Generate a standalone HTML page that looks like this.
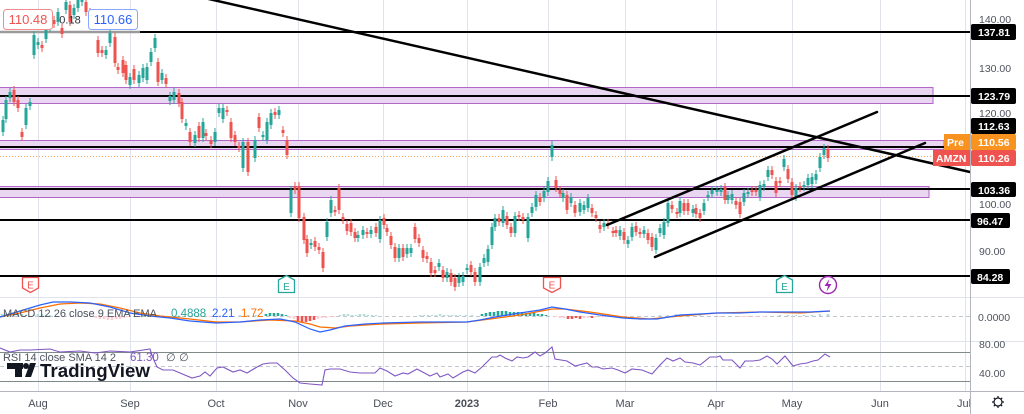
<!DOCTYPE html>
<html><head><meta charset="utf-8"><style>
html,body{margin:0;padding:0;background:#fff;overflow:hidden}
svg{display:block;font-family:"Liberation Sans",sans-serif}
</style></head><body>
<svg width="1024" height="414" viewBox="0 0 1024 414" xmlns="http://www.w3.org/2000/svg">
<defs>
<marker id="mt" markerUnits="userSpaceOnUse" markerWidth="2" markerHeight="8" refX="1" refY="4" orient="0" overflow="visible"><path d="M1 0V8" stroke="#26a69a" stroke-width="1"/></marker>
<marker id="mr" markerUnits="userSpaceOnUse" markerWidth="2" markerHeight="8" refX="1" refY="4" orient="0" overflow="visible"><path d="M1 0V8" stroke="#ef5350" stroke-width="1"/></marker>
</defs>
<rect x="0" y="0" width="1024" height="414" fill="#fff"/>
<!-- vertical grid -->
<g stroke="#e0e3eb" stroke-width="1">
<path d="M38.5 0V391M130.5 0V391M216.5 0V391M298.5 0V391M383.5 0V391M467.5 0V391M548.5 0V391M625.5 0V391M716.5 0V391M792.5 0V391M880.5 0V391M965.5 0V391"/>
<path d="M0 297.5H970M0 341.5H970"/>
</g>
<!-- bands -->
<g fill="#e9d6f0" stroke="#b266c8" stroke-width="1">
<rect x="-1" y="87.5" width="934" height="16"/>
<rect x="-1" y="140.5" width="945" height="9"/>
<rect x="-1" y="186.5" width="930" height="11"/>
</g>
<!-- horizontal lines -->
<g stroke="#000" stroke-width="2">
<path d="M140 32H970M0 96H970M0 147H944M0 189H970M0 220H970M0 276H970"/>
</g>
<path d="M0 32H140" stroke="#9a9a9a" stroke-width="2.5"/>
<path d="M0 156.5H933" stroke="#f5a25d" stroke-width="1" stroke-dasharray="1 2"/>
<!-- candles -->
<path fill="none" stroke="#26a69a" stroke-width="3" marker-start="url(#mt)" marker-mid="url(#mt)" marker-end="url(#mt)" d="M3 120V132 M6 100V119 M10 92V98 M26 108V125 M30 102V106 M34 35V55 M38 42V45 M46 30V39 M50 20V28 M58 12V22 M66 2V10 M74 8V15 M78 0V8 M82 -5V2 M106 50V55 M110 33V43 M130 77V85 M139 75V83 M143 68V78 M147 67V80 M151 52V62 M155 38V48 M162 73V80 M170 96V101 M174 92V100 M186 123V126 M195 135V143 M203 122V138 M215 132V142 M219 108V113 M223 108V119 M243 142V168 M255 140V158 M263 135V137 M267 122V140 M271 113V125 M279 110V115 M291 190V213 M311 243V245 M327 222V237 M331 200V213 M358 235V238 M363 230V235 M371 230V234 M380 220V239 M399 248V258 M407 248V254 M411 248V253 M439 263V267 M447 272V278 M459 277V283 M463 276V282 M467 268V270 M480 267V282 M484 258V263 M488 249V262 M492 227V245 M495 218V227 M503 210V223 M515 216V233 M528 217V238 M532 207V213 M536 195V207 M544 191V198 M548 181V192 M552 145V157 M563 193V198 M571 197V203 M580 203V212 M584 205V210 M588 198V208 M604 223V227 M620 230V236 M628 240V244 M632 227V237 M644 230V234 M656 238V250 M660 228V233 M664 222V235 M668 203V223 M680 201V213 M693 209V213 M704 203V211 M708 195V197 M712 190V194 M717 190V192 M721 189V192 M728 195V200 M732 194V200 M744 193V202 M748 192V194 M760 185V197 M764 184V187 M768 170V177 M784 159V167 M796 188V197 M804 185V187 M808 178V185 M812 177V184 M816 174V180 M820 157V168 M824 148V155"/>
<path fill="none" stroke="#ef5350" stroke-width="3" marker-start="url(#mr)" marker-mid="url(#mr)" marker-end="url(#mr)" d="M14 90V102 M18 100V108 M22 132V137 M42 45V48 M54 20V24 M62 28V34 M70 5V22 M86 2V12 M90 12V22 M98 40V53 M102 50V53 M115 37V63 M118 67V70 M123 60V73 M126 65V80 M134 69V80 M158 62V82 M166 78V84 M179 93V103 M182 102V119 M190 132V142 M199 126V138 M206 133V136 M211 140V144 M227 110V112 M231 122V138 M235 135V142 M239 146V148 M248 142V172 M259 117V128 M275 112V115 M283 130V133 M287 140V155 M295 186V190 M299 186V218 M304 217V240 M307 239V253 M315 241V247 M319 247V250 M323 252V268 M335 210V212 M339 188V210 M343 217V220 M347 224V231 M351 223V232 M355 232V238 M367 232V234 M376 227V233 M384 218V225 M387 228V232 M391 236V245 M395 247V258 M403 248V257 M415 227V239 M419 238V243 M423 250V258 M427 256V259 M431 262V273 M435 270V273 M443 270V278 M451 273V282 M455 278V287 M471 265V272 M475 272V282 M499 218V222 M507 216V225 M511 227V233 M519 215V217 M523 217V220 M540 197V202 M556 180V188 M560 190V194 M567 195V210 M575 205V213 M592 208V213 M596 215V218 M600 225V229 M608 223V225 M613 231V233 M616 230V233 M624 232V240 M636 226V232 M640 232V234 M648 233V240 M652 237V247 M672 205V209 M677 212V214 M684 203V211 M688 203V211 M696 208V214 M700 213V218 M725 187V200 M736 201V205 M740 202V214 M752 190V192 M756 190V192 M772 170V175 M776 181V193 M780 181V183 M788 169V179 M792 182V195 M800 186V188 M828 149V158"/>
<!-- trend lines -->
<g stroke="#000" stroke-width="2.5" stroke-linecap="round">
<line x1="200" y1="-3" x2="970" y2="172"/>
<line x1="607" y1="225" x2="877" y2="112"/>
<line x1="655" y1="257" x2="925" y2="143"/>
</g>
<!-- top-left legend -->
<rect x="3.5" y="9.5" width="49" height="20" rx="3" fill="#fff" stroke="#f28b8b"/>
<text x="28" y="24" font-size="13" fill="#ef5350" text-anchor="middle">110.48</text>
<text x="70" y="23.5" font-size="11" fill="#2a2e39" text-anchor="middle">0.18</text>
<rect x="88.5" y="9.5" width="49" height="20" rx="3" fill="#fff" stroke="#8aa6ff"/>
<text x="113" y="24" font-size="13" fill="#2962ff" text-anchor="middle">110.66</text>
<!-- earnings markers -->
<path d="M22.5 277.5H38.5V288L30.5 292.5L22.5 288Z" fill="#fff" stroke="#ef5350" stroke-width="1.3"/>
<text x="30.5" y="288.5" font-size="10" fill="#ef5350" text-anchor="middle">E</text>
<path d="M278.5 280L286.5 275.5L294.5 280V292.5H278.5Z" fill="#fff" stroke="#26a69a" stroke-width="1.3"/>
<text x="286.5" y="290" font-size="10" fill="#26a69a" text-anchor="middle">E</text>
<path d="M543.5 277.5H560.5V288L552 292.5L543.5 288Z" fill="#fff" stroke="#ef5350" stroke-width="1.3"/>
<text x="552" y="288.5" font-size="10" fill="#ef5350" text-anchor="middle">E</text>
<path d="M776.5 280L784.5 275.5L792.5 280V292.5H776.5Z" fill="#fff" stroke="#26a69a" stroke-width="1.3"/>
<text x="784.5" y="290" font-size="10" fill="#26a69a" text-anchor="middle">E</text>
<circle cx="828" cy="285" r="8.5" fill="#fff" stroke="#9c27b0" stroke-width="1.4"/>
<path d="M829.5 279L824.5 286H828L826.5 291.5L831.5 284H828Z" fill="#9c27b0"/>
<!-- MACD pane -->
<path d="M0 316.5H970" stroke="#c4c7ce" stroke-dasharray="4 3"/>
<g stroke-width="2.6" fill="none">
<path stroke="#b2dfdb" d="M2 316V314M6 316V313M10 316V313M14 316V313M18 316V314M22 316V314M26 316V315M34 316V315M38 316V314M42 316V314M46 316V315M50 316V315M150 316V315M158 316V315M240 316V315M248 316V315M256 316V315M340 316V315M344 316V314M348 316V314M352 316V315M356 316V315M360 316V314M364 316V314M368 316V315M372 316V315M376 316V315M420 316V315M424 316V315M428 316V315M432 316V315M436 316V315M440 316V314M444 316V315M448 316V315M452 316V315M456 316V315M460 316V315M466 316V315M472 316V315M660 316V315M668 316V315M676 316V314M684 316V315M692 316V315M700 316V315M780 316V315M788 316V315M796 316V315M804 316V315M812 316V315M820 316V314M828 316V314"/>
<path stroke="#26a69a" d="M266 316V314M270 316V313M274 316V313M278 316V313M282 316V314M286 316V315M482 316V314M486 316V313M490 316V312M494 316V312M498 316V311M502 316V311M506 316V311M510 316V312M514 316V312M518 316V312M522 316V312M526 316V313M530 316V313M534 316V313M538 316V314M542 316V314M546 316V315"/>
<path stroke="#ffcdd2" d="M96 316V318M100 316V319M104 316V319M108 316V320M112 316V320M116 316V319M120 316V319M124 316V318M128 316V317M180 316V317M190 316V317M200 316V317M210 316V317M290 316V318M294 316V319M318 316V319M322 316V318M326 316V318M330 316V317M334 316V317M556 316V317M560 316V318M564 316V318M584 316V318M588 316V318M596 316V317M600 316V317M604 316V317M608 316V317M612 316V317M720 316V317M740 316V317M744 316V317M748 316V317M756 316V317M764 316V317"/>
<path stroke="#ef5350" d="M298 316V321M302 316V322M306 316V322M310 316V321M314 316V320M568 316V319M572 316V319M576 316V318M580 316V319M592 316V318"/>
</g>
<polyline fill="none" stroke="#ff6d00" stroke-width="1.2" points="0,317 20,313 40,308 60,304 80,303 100,304 120,308 140,313 160,316 190,319 216,322 240,322 270,320 295,321 310,324 320,327 335,328 350,326 383,324 420,323 467,322 490,319 520,315 552,309 565,309 590,312 623,317 650,319 680,316 717,313 760,312 800,313 830,311"/>
<polyline fill="none" stroke="#2962ff" stroke-width="1.2" points="0,317 20,311 40,305 53,302 70,302 90,303 110,307 130,313 150,316 170,318 190,321 216,323 240,322 260,320 280,319 295,322 310,329 320,332 330,330 345,326 365,324 383,323 420,322 467,322 480,320 495,317 520,313 540,310 552,307 565,309 580,312 600,315 623,318 640,319 657,319 680,315 700,314 717,313 740,313 760,312 793,312 810,312 830,311"/>
<text x="3" y="317" font-size="11" fill="#4c525e" textLength="154" lengthAdjust="spacingAndGlyphs">MACD 12 26 close 9 EMA EMA</text>
<text x="171" y="317" font-size="11.5" fill="#26a69a">0.4888</text>
<text x="212" y="317" font-size="11.5" fill="#2962ff">2.21</text>
<text x="241" y="317" font-size="11.5" fill="#ff6d00">1.72</text>
<!-- RSI pane -->
<path d="M0 352.5H970M0 381.5H970" stroke="#7e8b8a" stroke-width="1"/>
<path d="M0 366.5H970" stroke="#c4c7ce" stroke-dasharray="4 3"/>
<polyline fill="none" stroke="#7e57c2" stroke-width="1.1" points="0,348 10,352 20,350 30,350 50,349 60,352 80,351 95,353 110,351 130,352 150,349 153,358 157,367 163,370 173,370 180,373 192,378 200,376 205,372 210,376 217,368 223,367 233,372 240,370 247,373 257,367 263,364 270,363 277,363 285,370 293,378 300,383 310,384 322,385 325,370 330,369 340,369 350,372 360,373 370,373 375,373 380,368 387,371 395,376 403,373 408,374 417,369 430,376 437,373 440,377 448,374 453,378 463,372 468,370 475,373 482,367 492,357 497,357 500,355 505,358 512,361 517,357 523,358 528,357 535,352 540,356 545,353 552,347 555,359 567,361 575,366 587,363 592,367 598,367 603,369 612,368 618,370 625,373 632,369 642,370 652,374 660,365 667,358 673,361 680,358 685,362 693,363 700,365 710,357 717,357 720,356 723,360 732,360 740,368 745,361 753,361 760,360 767,356 772,359 777,364 785,356 793,366 800,364 807,363 813,361 818,360 825,354 830,357"/>
<text x="3" y="361" font-size="11" fill="#4c525e" textLength="113" lengthAdjust="spacingAndGlyphs">RSI 14 close SMA 14 2</text>
<text x="130" y="361" font-size="11.5" fill="#7e57c2">61.30</text>
<text x="166" y="361" font-size="11" fill="#4c525e" font-family="DejaVu Sans, sans-serif">∅ ∅</text>
<!-- TradingView logo -->
<g fill="#131722">
<rect x="7" y="363" width="16" height="6"/>
<rect x="15" y="363" width="7" height="14"/>
<circle cx="26" cy="366" r="3"/>
<path d="M30 363H36L31 377H25Z"/>
</g>
<text x="40" y="377" font-size="18" font-weight="bold" fill="#131722" textLength="110" lengthAdjust="spacingAndGlyphs">TradingView</text>
<!-- time axis -->
<path d="M0 391.5H1024" stroke="#b2b5be"/>
<g font-size="11" fill="#4a4e59" text-anchor="middle">
<text x="38" y="407">Aug</text><text x="130" y="407">Sep</text><text x="216" y="407">Oct</text><text x="298" y="407">Nov</text><text x="383" y="407">Dec</text><text x="467" y="407" font-weight="bold">2023</text><text x="548" y="407">Feb</text><text x="625" y="407">Mar</text><text x="716" y="407">Apr</text><text x="792" y="407">May</text><text x="880" y="407">Jun</text><text x="964" y="407">Jul</text>
</g>
<!-- price axis -->
<rect x="971" y="0" width="53" height="391" fill="#fff"/>
<rect x="971" y="392" width="53" height="22" fill="#fff"/>
<path d="M970.5 0V414" stroke="#b2b5be"/>
<path d="M971 297.5H1024M971 341.5H1024" stroke="#e0e3eb"/>
<g font-size="10.5" fill="#50535e">
<text x="979" y="23">140.00</text>
<text x="979" y="72">130.00</text>
<text x="979" y="117">120.00</text>
<text x="979" y="208">100.00</text>
<text x="979" y="255">90.00</text>
<text x="978" y="321">0.0000</text>
<text x="979" y="348">80.00</text>
<text x="979" y="377">40.00</text>
</g>
<g fill="#000">
<rect x="971" y="24" width="45" height="16" rx="2"/>
<rect x="971" y="88" width="45" height="16" rx="2"/>
<rect x="971" y="118" width="45" height="16" rx="2"/>
<rect x="971" y="182" width="45" height="15" rx="2"/>
<rect x="971" y="213" width="39" height="15" rx="2"/>
<rect x="971" y="269" width="39" height="15" rx="2"/>
</g>
<rect x="944" y="134" width="26" height="16" fill="#f7931e"/>
<rect x="971" y="134" width="45" height="16" rx="2" fill="#f7931e"/>
<rect x="933" y="150" width="37" height="16" fill="#ef5350"/>
<rect x="971" y="150" width="45" height="16" rx="2" fill="#ef5350"/>
<g font-size="10.5" font-weight="bold" fill="#fff">
<text x="978" y="36">137.81</text>
<text x="978" y="100">123.79</text>
<text x="978" y="130">112.63</text>
<text x="978" y="146">110.56</text>
<text x="978" y="162">110.26</text>
<text x="978" y="194">103.36</text>
<text x="977" y="225">96.47</text>
<text x="977" y="281">84.28</text>
<text x="947" y="146">Pre</text>
<text x="936" y="162">AMZN</text>
</g>
<!-- gear -->
<g stroke="#131722" stroke-width="1.2" fill="none">
<circle cx="998" cy="402" r="4"/>
<path d="M998 396V398M998 406V408M992 402H994M1002 402H1004M993.8 397.8L995.2 399.2M1000.8 404.8L1002.2 406.2M993.8 406.2L995.2 404.8M1000.8 399.2L1002.2 397.8"/>
</g>
</svg>
</body></html>
